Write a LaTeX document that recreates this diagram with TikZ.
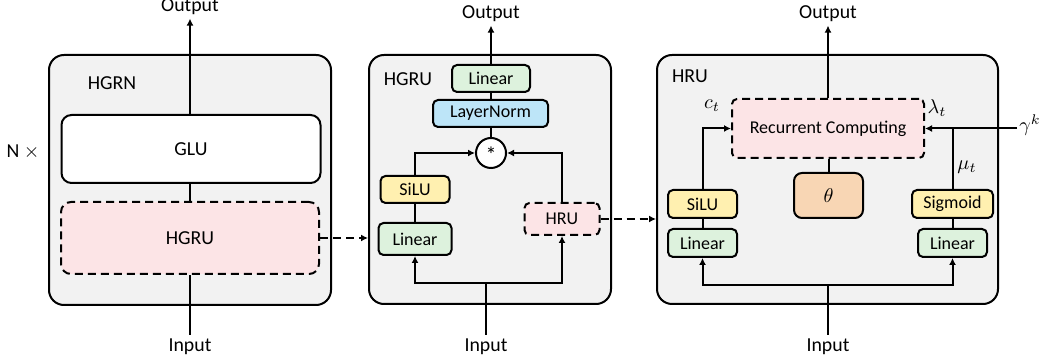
\documentclass[tikz,border=0pt]{standalone}
\usepackage{fontspec}
\setmainfont{Carlito}
\usetikzlibrary{arrows.meta}
\definecolor{panelgray}{HTML}{F2F2F2}
\definecolor{pinkc}{HTML}{FCE4E6}
\definecolor{greenc}{HTML}{DDF2DD}
\definecolor{bluec}{HTML}{BDE5F8}
\definecolor{yellowc}{HTML}{FFF0B0}
\definecolor{orangec}{HTML}{F8D6B4}
\newcommand{\outerfont}{\fontsize{9.9pt}{12pt}\selectfont}
\newcommand{\innerfont}{\fontsize{9pt}{11pt}\selectfont}
\newcommand{\starfont}{\fontsize{11pt}{13pt}\selectfont}
\begin{document}
\begin{tikzpicture}[x=0.5pt,y=-0.5pt,
  panel/.style={draw, line width=1pt, fill=panelgray, rounded corners=7.5pt, inner sep=0},
  blk/.style={draw, line width=1pt, rounded corners=2.5pt, inner sep=0, font=\innerfont},
  bigblk/.style={draw, line width=1pt, rounded corners=5pt, inner sep=0, font=\outerfont},
  dsh/.style={dash pattern=on 4pt off 2.5pt},
  conn/.style={line width=1pt},
  arr/.style={conn, -{Latex[length=3.5pt,width=3.5pt]}},
  lbl/.style={font=\outerfont, inner sep=1.5pt},
  mlbl/.style={font=\outerfont, inner sep=0pt}]
\useasboundingbox (0,0) rectangle (1047,362);

% ---------- Panel 1: HGRN ----------
\node[panel, minimum width=141pt, minimum height=125pt] (p1) at (190,180) {};
\node[lbl] (hgrnl) at (112,83) {HGRN};
\node[bigblk, fill=white, minimum width=129.5pt, minimum height=34pt] (glu) at (191,149) {GLU};
\node[bigblk, dsh, fill=pinkc, minimum width=129pt, minimum height=36pt] (hgru1) at (190,238) {HGRU};
\node[lbl] (nx) at (23,152) {N $\times$};
\node[lbl, anchor=base] (out1) at (190,12) {Output};
\node[lbl, anchor=base] (in1) at (190,351) {Input};
\draw[conn] (in1.north) -- (hgru1.south);
\draw[conn] (hgru1.north) -- (hgru1.north |- glu.south);
\draw[arr] (hgru1.north |- glu.north) -- (out1.south);

% ---------- Panel 2: HGRU ----------
\node[panel, minimum width=121pt, minimum height=124.5pt] (p2) at (490,179.5) {};
\node[lbl] (hgrul) at (408,79) {HGRU};
\node[blk, fill=greenc, minimum width=39pt, minimum height=13.5pt] (lin2t) at (491,78.5) {Linear};
\node[blk, fill=bluec, minimum width=57.5pt, minimum height=13.5pt] (ln2) at (490.5,113.5) {LayerNorm};
\node[draw, circle, line width=1pt, fill=white, minimum size=15pt, inner sep=0] (circ) at (491,153) {};
\node[font=\starfont, inner sep=0] (star) at (491,155) {*};
\node[blk, fill=yellowc, minimum width=34.5pt, minimum height=13.5pt] (silu2) at (415,189.5) {SiLU};
\node[blk, fill=greenc, minimum width=36.5pt, minimum height=16pt] (lin2l) at (415,239) {Linear};
\node[blk, dsh, fill=pinkc, minimum width=37.5pt, minimum height=16pt] (hru2) at (562,219) {HRU};
\node[lbl, anchor=base] (out2) at (491,19) {Output};
\node[lbl, anchor=base] (in2) at (486,351) {Input};
\draw[arr] (lin2t.north) -- (out2.south);
\draw[conn] (lin2t.south) -- (lin2t.south |- ln2.north);
\draw[conn] (lin2t.south |- ln2.south) -- (circ.north);
\draw[arr] (silu2.north) |- (circ.west);
\draw[arr] (hru2.north) |- (circ.east);
\draw[conn] (silu2.south) -- (lin2l.north);
\coordinate (j2) at (486,283);
\draw[conn] (in2.north) -- (j2);
\draw[arr] (j2) -| (lin2l.south);
\draw[arr] (j2) -| (hru2.south);
\draw[arr, dsh] (hgru1.east) -- (p2.west |- hgru1.east);

% ---------- Panel 3: HRU ----------
\node[panel, minimum width=170.5pt, minimum height=124.5pt] (p3) at (827.5,179.5) {};
\node[lbl] (hrul) at (690,76) {HRU};
\node[blk, dsh, fill=pinkc, minimum width=96pt, minimum height=29.5pt] (rc) at (828,128.5) {Recurrent Computing};
\node[blk, fill=orangec, rounded corners=4pt, minimum width=34.5pt, minimum height=22.5pt, font=\outerfont] (theta) at (828.5,195.5) {$\theta$};
\node[blk, fill=yellowc, minimum width=34.5pt, minimum height=14pt] (silu3) at (702.5,204) {SiLU};
\node[blk, fill=greenc, minimum width=34.5pt, minimum height=14pt] (lin3l) at (702.5,243) {Linear};
\node[blk, fill=yellowc, minimum width=40.5pt, minimum height=14pt] (sig) at (952.5,204) {Sigmoid};
\node[blk, fill=greenc, minimum width=34.5pt, minimum height=14pt] (lin3r) at (952.5,243) {Linear};
\node[lbl, anchor=base] (out3) at (828,19) {Output};
\node[lbl, anchor=base] (in3) at (828,351) {Input};
\node[mlbl] (ct) at (712,106) {$c_t$};
\node[mlbl] (lt) at (937,108) {$\lambda_t$};
\node[mlbl] (mt) at (967,167) {$\mu_t$};
\coordinate (gk) at (1017,128.5);
\node[mlbl, anchor=west] (gamma) at (1019,125) {$\gamma^k$};
\draw[arr] (rc.north) -- (out3.south);
\draw[conn] (rc.south -| theta.north) -- (theta.north);
\draw[arr] (silu3.north) |- (rc.west);
\draw[arr] (gk) -- (rc.east);
\draw[conn] (sig.north) -- (sig.north |- rc.east);
\draw[conn] (silu3.south) -- (lin3l.north);
\draw[conn] (sig.south) -- (lin3r.north);
\coordinate (j3) at (828,285);
\draw[conn] (in3.north) -- (j3);
\draw[arr] (j3) -| (lin3l.south);
\draw[arr] (j3) -| (lin3r.south);
\draw[arr, dsh] (hru2.east) -- (p3.west |- hru2.east);
\end{tikzpicture}
\end{document}
